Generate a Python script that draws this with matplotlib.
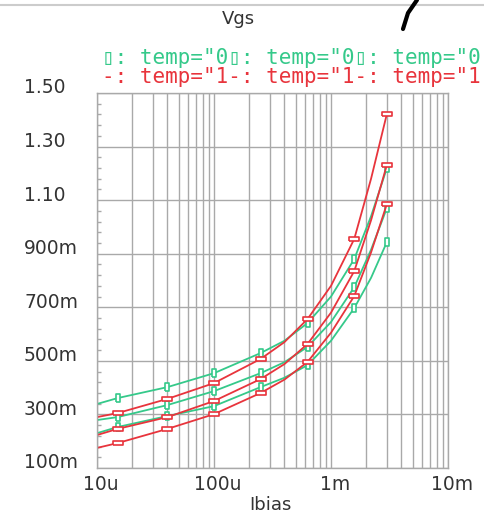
import numpy as np
import matplotlib.pyplot as plt
import matplotlib.transforms as mtransforms
from matplotlib.ticker import FixedLocator, LogLocator, NullFormatter

# Ibias sweep points (A)
ibias = [10e-6, 15e-6, 40e-6, 100e-6, 250e-6, 400e-6, 630e-6, 1e-3, 1.58e-3, 2.2e-3, 3e-3]
marked = [1, 2, 3, 4, 6, 8, 10]

# Vgs (V), green = temp 0 corners, red = temp 1.. corners
green_top = [0.339, 0.361, 0.402, 0.454, 0.529, 0.575, 0.641, 0.74, 0.880, 1.04, 1.219]
green_mid = [0.279, 0.290, 0.335, 0.387, 0.454, 0.495, 0.552, 0.645, 0.775, 0.915, 1.070]
green_bot = [0.230, 0.253, 0.294, 0.331, 0.402, 0.437, 0.484, 0.575, 0.697, 0.81, 0.943]
red_top = [0.290, 0.305, 0.358, 0.417, 0.507, 0.57, 0.656, 0.78, 0.955, 1.18, 1.421]
red_mid = [0.223, 0.246, 0.290, 0.350, 0.432, 0.488, 0.563, 0.68, 0.835, 1.025, 1.231]
red_bot = [0.175, 0.193, 0.246, 0.301, 0.380, 0.43, 0.496, 0.605, 0.742, 0.905, 1.085]

yticks = [0.1, 0.3, 0.5, 0.7, 0.9, 1.1, 1.3, 1.5]
ylabels = ["100m", "300m", "500m", "700m", "900m", "1.10", "1.30", "1.50"]
xticks = [1e-5, 1e-4, 1e-3, 1e-2]
xlabels = ["10u", "100u", "1m", "10m"]

GREEN = "#35c98a"
RED = "#e8343c"
GRID = "#a9a9a9"
TXT = "#333333"

W, H = 485, 516
fig = plt.figure(figsize=(W / 100, H / 100), dpi=100)
ax = fig.add_axes([97 / W, 1 - 468 / H, (448 - 97) / W, (468 - 93) / H])

g_mark = [(-0.5, -1), (0.5, -1), (0.5, 1), (-0.5, 1), (-0.5, -1)]
r_mark = [(-1, -0.45), (1, -0.45), (1, 0.45), (-1, 0.45), (-1, -0.45)]

for v in [green_top, green_mid, green_bot]:
    ax.plot(ibias, v, color=GREEN, lw=1.3, marker=g_mark, markersize=6,
            markevery=marked, mfc="white", mec=GREEN, mew=1.2)
for v in [red_top, red_mid, red_bot]:
    ax.plot(ibias, v, color=RED, lw=1.3, marker=r_mark, markersize=7.2,
            markevery=marked, mfc="white", mec=RED, mew=1.2)

ax.set_xscale("log")
ax.set_xlim(1e-5, 1e-2)
ax.set_ylim(0.1, 1.5)

ax.set_xticks(xticks)
ax.set_xticklabels(xlabels)
ax.xaxis.set_minor_locator(LogLocator(base=10, subs=np.arange(2, 10)))
ax.xaxis.set_minor_formatter(NullFormatter())
ax.set_yticks(yticks)
ax.set_yticklabels(ylabels, ha="left")
ax.yaxis.set_minor_locator(FixedLocator(np.arange(0.1, 1.5, 0.04)))

ax.grid(True, which="major", color=GRID, lw=1)
ax.grid(True, which="minor", axis="x", color=GRID, lw=1)
ax.tick_params(axis="both", which="major", length=0, labelsize=13.5, labelcolor=TXT)
ax.tick_params(axis="x", which="major", pad=5)
ax.tick_params(axis="y", which="major", pad=73 * 0.72)
ax.tick_params(axis="x", which="minor", length=0)
ax.tick_params(axis="y", which="minor", direction="in", length=3, color=GRID, width=1)
for s in ax.spines.values():
    s.set_color(GRID)
    s.set_linewidth(1)

# y labels sit a little above their gridlines
up = mtransforms.ScaledTranslation(0, 7 / 100, fig.dpi_scale_trans)
for lab in ax.get_yticklabels():
    lab.set_transform(lab.get_transform() + up)
right = mtransforms.ScaledTranslation(4 / 100, 0, fig.dpi_scale_trans)
for lab in ax.get_xticklabels():
    lab.set_transform(lab.get_transform() + right)

fig.text(238 / W, 1 - 19 / H, "Vgs", ha="center", va="center", fontsize=13, color=TXT)
fig.text(270 / W, 1 - 505 / H, "Ibias", ha="center", va="center", fontsize=13, color=TXT)

mono = ["DejaVu Sans Mono", "DejaVu Sans"]
fig.text(102 / W, 1 - 58 / H, '\u25af: temp="0\u25af: temp="0\u25af: temp="0',
         ha="left", va="center", fontsize=15, color=GREEN, family=mono)
fig.text(102 / W, 1 - 77 / H, '-: temp="1-: temp="1-: temp="1',
         ha="left", va="center", fontsize=15, color=RED, family=mono)

# page decorations from the screenshot
fig.add_artist(plt.Line2D([0, 1], [1 - 5 / H, 1 - 5 / H], color="#cccccc", lw=1.5))
fig.add_artist(plt.Line2D([403 / W, 408 / W, 417 / W], [1 - 29 / H, 1 - 13 / H, 1.0],
                          color="black", lw=3, solid_capstyle="round"))

fig.savefig("out.png", dpi=100)
